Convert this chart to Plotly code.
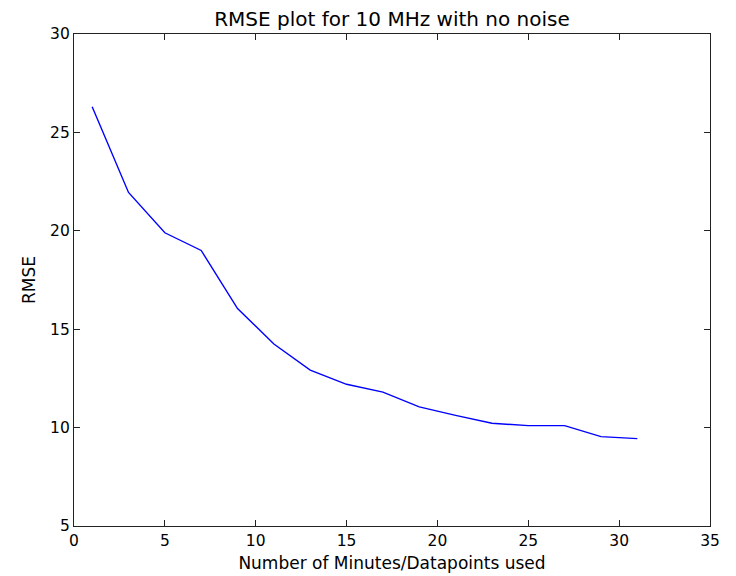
import plotly.graph_objects as go

# Number of minutes / datapoints used and the resulting RMSE
minutes = [1, 3, 5, 7, 9, 11, 13, 15, 17, 19, 21, 23, 25, 27, 29, 31]
rmse = [26.3, 21.95, 19.9, 19.0, 16.05, 14.25, 12.92, 12.2, 11.8, 11.05, 10.62,
        10.22, 10.1, 10.1, 9.54, 9.44]

x_ticks = [0, 5, 10, 15, 20, 25, 30, 35]
y_ticks = [5, 10, 15, 20, 25, 30]

font_family = "DejaVu Sans"

fig = go.Figure(
    go.Scatter(
        x=minutes,
        y=rmse,
        mode="lines",
        line=dict(color="#0000ff", width=1.4),
        showlegend=False,
    )
)

axis_common = dict(
    automargin=False,
    showline=True,
    linecolor="#222222",
    linewidth=1.2,
    mirror="ticks",
    ticks="inside",
    ticklen=6,
    tickwidth=1,
    tickcolor="#222222",
    showgrid=False,
    zeroline=False,
    tickfont=dict(family=font_family, size=15.5, color="black"),
    title_font=dict(family=font_family, size=17, color="black"),
)

fig.update_layout(
    width=736,
    height=576,
    margin=dict(l=74, r=26, t=34, b=50),
    paper_bgcolor="white",
    plot_bgcolor="white",
    title=dict(
        text="RMSE plot for 10 MHz with no noise",
        x=0.5 + (74 - 26) / 2 / 736,
        xanchor="center",
        y=1 - 19 / 576,
        yanchor="middle",
        font=dict(family=font_family, size=20, color="black"),
    ),
    xaxis=dict(
        range=[0, 35],
        tickvals=x_ticks,
        title=dict(text="Number of Minutes/Datapoints used", standoff=8),
        **axis_common,
    ),
    yaxis=dict(
        range=[5, 30],
        tickvals=y_ticks,
        title=dict(text="RMSE", standoff=10),
        **axis_common,
    ),
)

fig.write_html("out.html")
